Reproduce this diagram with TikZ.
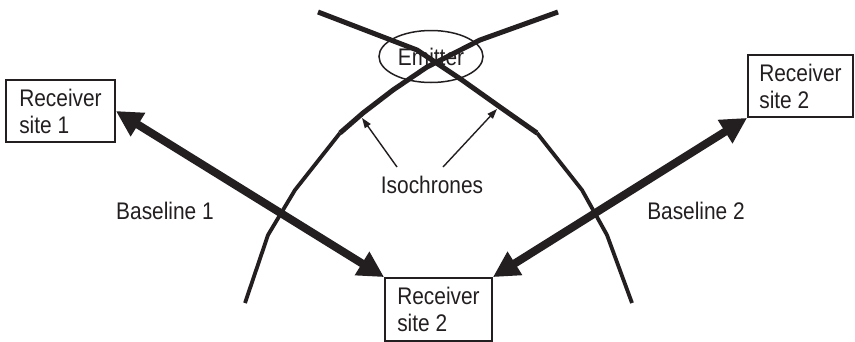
\documentclass[tikz,border=0pt]{standalone}
\usepackage{fontspec}
\setmainfont{Liberation Sans}[FakeStretch=0.87]
\usetikzlibrary{arrows.meta,shapes.geometric}
\definecolor{ink}{RGB}{35,31,32}
\begin{document}
\begin{tikzpicture}[x=1pt,y=-1pt, color=ink,
  every node/.style={font=\fontsize{24}{27}\selectfont, text=ink},
  box/.style={draw, line width=1.8pt, align=left, inner sep=0pt},
  big/.style={line width=8pt, {Triangle[length=26pt,width=26pt]}-{Triangle[length=26pt,width=26pt]}},
  small/.style={line width=1.4pt, -{Triangle[length=10pt,width=7pt]}},
  iso/.style={line width=5pt, line join=round},
  isolow/.style={line width=3.8pt, line join=round},
  txt/.style={anchor=base}]
\path[use as bounding box] (0,0) rectangle (855,341);

% emitter
\node[draw, ellipse, line width=1.5pt, minimum width=104pt, minimum height=52pt, inner sep=0pt] (em) at (431,56.5) {Emitter};

% receiver boxes
\node[box, minimum width=109pt, minimum height=62pt] (r1) at (60.5,111) {Receiver\\site 1};
\node[box, minimum width=105pt, minimum height=62pt] (r2) at (800.5,86) {Receiver\\site 2};
\node[box, minimum width=107pt, minimum height=63pt] (r3) at (438.5,309.5) {Receiver\\site 2};

% isochrones
\draw[iso] (558,12) -- (480,40) -- (427,67) -- (393,90) -- (363,113) -- (340,133);
\draw[isolow] (340,133) -- (295,190) -- (268,235) -- (245,303);
\draw[iso] (318,12) -- (417,50) -- (462,80) -- (500,107) -- (537,133);
\draw[isolow] (537,133) -- (582,190) -- (607,235) -- (632,303);

% baselines
\draw[big] (r1.east) -- (r3.north west);
\draw[big] (r2.south west) -- (r3.north east);

% labels
\node[txt] (b1) at (165,219) {Baseline 1};
\node[txt] (b2) at (696,219) {Baseline 2};
\node[txt] (iso) at (432,193) {Isochrones};

% pointers
\coordinate (s1) at (397,167);
\coordinate (e1) at (362,118);
\coordinate (s2) at (443,167);
\coordinate (e2) at (497,109);
\draw[small] (s1) -- (e1);
\draw[small] (s2) -- (e2);
\end{tikzpicture}
\end{document}
